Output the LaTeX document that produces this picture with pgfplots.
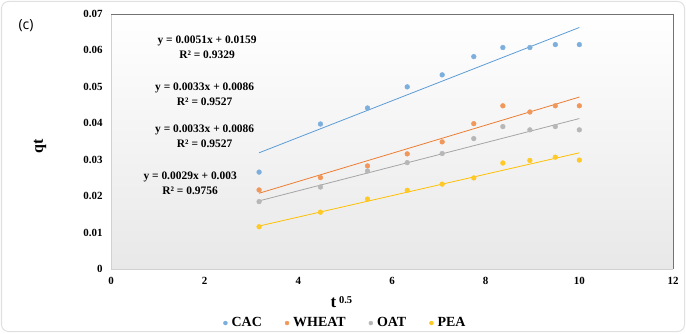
\documentclass[border=0pt]{standalone}
\usepackage{pgfplots}
\pgfplotsset{compat=1.18}
\usepackage{fontspec}
\setmainfont{Liberation Serif}
\newfontfamily\capfont{Open Sans}
\definecolor{cac}{HTML}{5B9BD5}
\definecolor{wheat}{HTML}{ED7D31}
\definecolor{oat}{HTML}{A5A5A5}
\definecolor{pea}{HTML}{FFC000}
\pgfplotstableread{
x      cac     wheat   oat     pea
3.162  0.0266  0.0217  0.0185  0.0116
4.472  0.0398  0.0251  0.0225  0.0156
5.477  0.0442  0.0283  0.0269  0.0192
6.325  0.0500  0.0316  0.0292  0.0216
7.071  0.0533  0.0349  0.0317  0.0233
7.746  0.0583  0.0399  0.0358  0.0250
8.367  0.0608  0.0448  0.0391  0.0291
8.944  0.0608  0.0431  0.0382  0.0298
9.487  0.0616  0.0448  0.0391  0.0307
10.000 0.0616  0.0448  0.0382  0.0299
}\datatable
\begin{document}
\begin{tikzpicture}[x=1bp,y=1bp]
\useasboundingbox (0,0) rectangle (686,333);
\draw[black!12, rounded corners=7bp, line width=1bp] (1.5,1.5) rectangle (684.5,331.5);
\node[font=\capfont\fontsize{14}{16}\selectfont] at (26,307) {(c)};
\begin{axis}[
  at={(111bp,64bp)}, anchor=south west,
  width=562bp, height=255bp, scale only axis,
  xmin=0, xmax=12, ymin=0, ymax=0.07,
  scaled y ticks=false, scaled x ticks=false,
  xtick={0,2,4,6,8,10,12},
  xticklabels={0,2,4,6,8,10,12},
  ytick={0,0.01,0.02,0.03,0.04,0.05,0.06,0.07},
  yticklabels={0,0.01,0.02,0.03,0.04,0.05,0.06,0.07},
  /pgf/number format/assume math mode=true,
  major tick length=0pt,
  axis line style={draw=none},
  axis background/.style={top color=white, bottom color=black!9},
  xticklabel style={font=\rmfamily\bfseries\fontsize{11}{13}\selectfont, yshift=-5bp},
  yticklabel style={font=\rmfamily\bfseries\fontsize{11}{13}\selectfont, xshift=-5bp},
  xlabel={t\,\raisebox{0.55ex}{\fontsize{10.5}{12}\selectfont 0.5}},
  xlabel style={at={(axis description cs:0.41,-0.13)}, anchor=center, font=\rmfamily\bfseries\fontsize{17}{19}\selectfont},
  ylabel={qt},
  ylabel style={at={(axis description cs:-0.126,0.482)}, anchor=center, font=\rmfamily\bfseries\fontsize{16}{18}\selectfont},
  legend columns=4,
  legend style={at={(axis description cs:0.417,-0.212)}, anchor=center, draw=none, fill=none,
    font=\rmfamily\bfseries\fontsize{14}{16}\selectfont,
    /tikz/every even column/.append style={column sep=21bp}},
  legend image code/.code={\path (-2bp,0) (4bp,0); \draw[#1, mark size=2pt] plot coordinates {(0cm,0cm)};},
  clip=false,
]
\draw[black!18, line width=1bp] (rel axis cs:0,1) -- (rel axis cs:0,0) -- (rel axis cs:1,0);
\draw[black!55, line width=1bp] (rel axis cs:0,1) -- (rel axis cs:1,1) -- (rel axis cs:1,0);
\addplot[only marks, mark=*, mark size=2.4pt, cac, mark options={draw=cac!80, fill=cac!80}] table[x=x,y=cac] {\datatable};
\addlegendentry{CAC}
\addplot[only marks, mark=*, mark size=2.4pt, wheat, mark options={draw=wheat!80, fill=wheat!80}] table[x=x,y=wheat] {\datatable};
\addlegendentry{WHEAT}
\addplot[only marks, mark=*, mark size=2.4pt, oat, mark options={draw=oat!80, fill=oat!80}] table[x=x,y=oat] {\datatable};
\addlegendentry{OAT}
\addplot[only marks, mark=*, mark size=2.4pt, pea, mark options={draw=pea!85, fill=pea!85}] table[x=x,y=pea] {\datatable};
\addlegendentry{PEA}
\addplot[forget plot, cac, line width=0.8pt, no marks] coordinates {(3.162,0.0319) (10,0.0663)};
\addplot[forget plot, wheat, line width=0.8pt, no marks] coordinates {(3.162,0.0208) (10,0.0472)};
\addplot[forget plot, oat, line width=0.8pt, no marks] coordinates {(3.162,0.0187) (10,0.0413)};
\addplot[forget plot, pea, line width=0.8pt, no marks] coordinates {(3.162,0.0118) (10,0.0319)};
\node[align=center, font=\rmfamily\bfseries\fontsize{11.5}{15}\selectfont] at (axis cs:2.05,0.0608) {y = 0.0051x + 0.0159\\R² = 0.9329};
\node[align=center, font=\rmfamily\bfseries\fontsize{11.5}{15}\selectfont] at (axis cs:2.0,0.048) {y = 0.0033x + 0.0086\\R² = 0.9527};
\node[align=center, font=\rmfamily\bfseries\fontsize{11.5}{15}\selectfont] at (axis cs:2.0,0.0364) {y = 0.0033x + 0.0086\\R² = 0.9527};
\node[align=center, font=\rmfamily\bfseries\fontsize{11.5}{15}\selectfont] at (axis cs:1.69,0.0236) {y = 0.0029x + 0.003\\R² = 0.9756};
\end{axis}
\end{tikzpicture}
\end{document}
